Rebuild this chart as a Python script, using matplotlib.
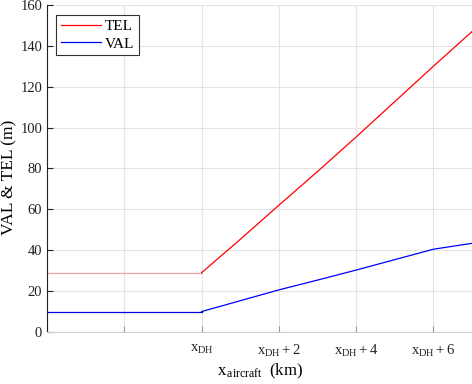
import matplotlib
matplotlib.use("Agg")
import matplotlib.pyplot as plt

plt.rcParams['font.family'] = ['Liberation Serif', 'DejaVu Serif']
plt.rcParams['mathtext.fontset'] = 'custom'
plt.rcParams['mathtext.rm'] = 'Liberation Serif'
plt.rcParams['mathtext.it'] = 'Liberation Serif'

# distance relative to x_DH (km)
x_flat = [-4, 0]
tel_flat = [29, 29]
val_flat = [10, 10]

x_rise = [0, 1, 2, 3, 4, 5, 6, 7]
tel_rise = [29, 45.3, 62, 78.5, 95.4, 112.7, 130, 147]
val_rise = [10, 15.3, 20.6, 25.4, 30.3, 35.4, 40.5, 43.4]

tick_pos = [-4, -2, 0, 2, 4, 6]
tick_labels = ['', '', r'$\mathrm{x_{DH}}$', r'$\mathrm{x_{DH}+2}$',
               r'$\mathrm{x_{DH}+4}$', r'$\mathrm{x_{DH}+6}$']

fig = plt.figure(figsize=(4.72, 3.84), dpi=100)
ax = fig.add_axes([0.0996, 0.1354, 0.9004, 0.8516])

ax.plot(x_flat, tel_flat, color='#f2a0a0', lw=0.9)
ax.plot(x_flat, val_flat, color='#0000e0', lw=0.9)
ax.plot(x_rise, tel_rise, color='red', lw=0.9, label='TEL')
ax.plot(x_rise, val_rise, color='blue', lw=0.9, label='VAL')

ax.set_xlim(-4, 7)
ax.set_ylim(0, 160)
ax.set_xticks(tick_pos)
ax.set_xticklabels(tick_labels)
ax.set_yticks(range(0, 161, 20))
ax.grid(True, color='#e4e4e4', lw=0.8)
ax.set_axisbelow(True)

ax.spines['top'].set_visible(False)
ax.spines['right'].set_visible(False)
ax.spines['bottom'].set_color('#d0d0d0')
ax.spines['left'].set_color('#222222')
ax.tick_params(direction='in', length=4, labelsize=10.5, colors='#222222')
ax.tick_params(axis='x', color='#999999', pad=8)

ax.set_ylabel('VAL & TEL (m)', fontsize=12.5)
ax.yaxis.set_label_coords(-0.07, 0.474)
ax.set_xlabel(r'$\mathrm{x}_{\,\mathrm{aircraft}}$  (km)', fontsize=12)
ax.xaxis.set_label_coords(0.5, -0.092)

leg = ax.legend(loc='upper left', bbox_to_anchor=(0.022, 0.97), fontsize=11,
                fancybox=False, framealpha=1, edgecolor='#333333',
                handlelength=2.6, borderpad=0.3, labelspacing=0.25,
                handletextpad=0.3, borderaxespad=0)
leg.get_frame().set_linewidth(0.8)

fig.savefig('out.png', dpi=100)
